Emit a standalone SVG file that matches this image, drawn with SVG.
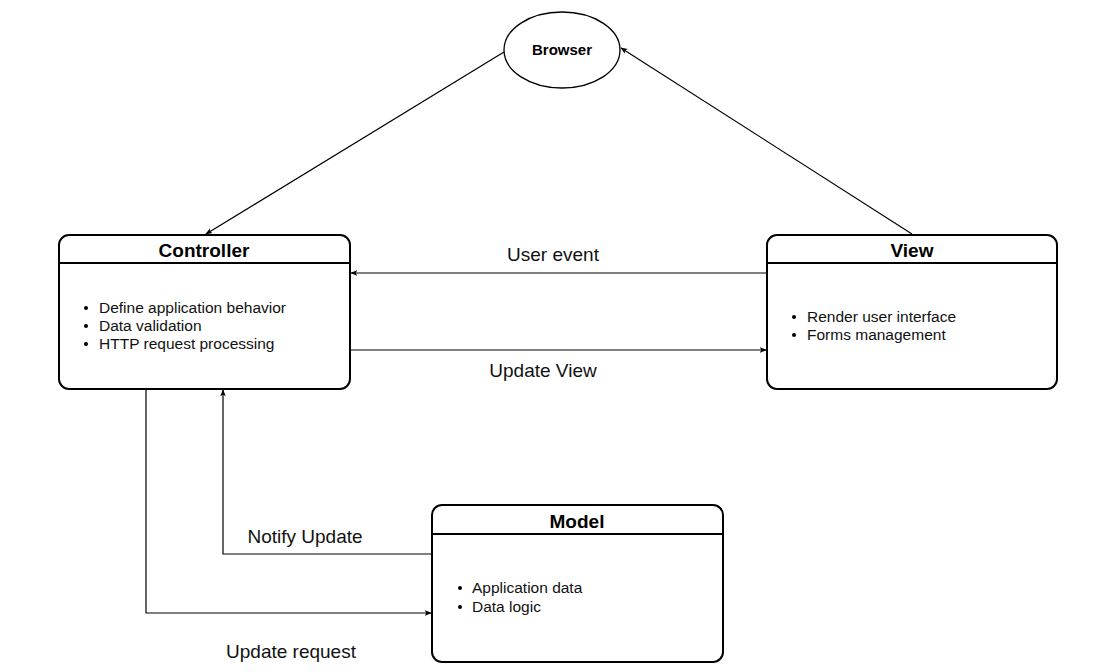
<svg xmlns="http://www.w3.org/2000/svg" width="1102" height="672" viewBox="0 0 1102 672">
<style>
.box{fill:#fff;stroke:#000;stroke-width:2}
.sep{stroke:#000;stroke-width:2}
.title{font-family:"Liberation Sans",Arial,sans-serif;font-weight:bold;font-size:19px;fill:#000;text-anchor:middle}
.item{font-family:"Liberation Sans",Arial,sans-serif;font-size:15.5px;fill:#111}
.lbl{font-family:"Liberation Sans",Arial,sans-serif;font-size:19px;fill:#111;text-anchor:middle}
.edge{fill:none;stroke:#000;stroke-width:1.2}
</style>
<defs>
<marker id="arr" viewBox="0 0 10 10" refX="9" refY="5" markerWidth="7" markerHeight="7" orient="auto" markerUnits="userSpaceOnUse">
<path d="M0,1 L10,5 L0,9 L2.5,5 Z" fill="#000"/>
</marker>
</defs>
<rect width="1102" height="672" fill="#fff"/>
<g id="connectors">
<line class="edge" x1="504" y1="52" x2="206" y2="234" marker-end="url(#arr)"/>
<line class="edge" x1="912" y1="234" x2="621" y2="48" marker-end="url(#arr)"/>
<line class="edge" x1="766" y1="273" x2="351" y2="273" marker-end="url(#arr)"/>
<line class="edge" x1="351" y1="350" x2="766" y2="350" marker-end="url(#arr)"/>
<polyline class="edge" points="146,390 146,613 431,613" marker-end="url(#arr)"/>
<polyline class="edge" points="431,554 223,554 223,390" marker-end="url(#arr)"/>
<text class="lbl" x="553" y="261">User event</text>
<text class="lbl" x="543" y="377">Update View</text>
<text class="lbl" x="305" y="543">Notify Update</text>
<text class="lbl" x="291" y="658">Update request</text>
</g>
<g id="browser">
<ellipse cx="562" cy="50" rx="58" ry="38" fill="#fff" stroke="#000" stroke-width="1.3"/>
<text x="562" y="55" font-family="'Liberation Sans',Arial,sans-serif" font-weight="bold" font-size="15" text-anchor="middle" fill="#000">Browser</text>
</g>
<g id="controller">
<rect class="box" x="59" y="235" width="291" height="154" rx="10"/>
<line class="sep" x1="59" y1="263" x2="350" y2="263"/>
<text class="title" x="204" y="257">Controller</text>
<circle cx="86" cy="308" r="2"/><text class="item" x="99" y="313">Define application behavior</text>
<circle cx="86" cy="326" r="2"/><text class="item" x="99" y="331">Data validation</text>
<circle cx="86" cy="344" r="2"/><text class="item" x="99" y="349">HTTP request processing</text>
</g>
<g id="view">
<rect class="box" x="767" y="235" width="290" height="154" rx="10"/>
<line class="sep" x1="767" y1="263" x2="1057" y2="263"/>
<text class="title" x="912" y="257">View</text>
<circle cx="794" cy="317" r="2"/><text class="item" x="807" y="322">Render user interface</text>
<circle cx="794" cy="335" r="2"/><text class="item" x="807" y="340">Forms management</text>
</g>
<g id="model">
<rect class="box" x="432" y="505" width="291" height="157" rx="10"/>
<line class="sep" x1="432" y1="534" x2="723" y2="534"/>
<text class="title" x="577" y="528">Model</text>
<circle cx="460" cy="588" r="2"/><text class="item" x="472" y="593">Application data</text>
<circle cx="460" cy="607" r="2"/><text class="item" x="472" y="612">Data logic</text>
</g>
</svg>
